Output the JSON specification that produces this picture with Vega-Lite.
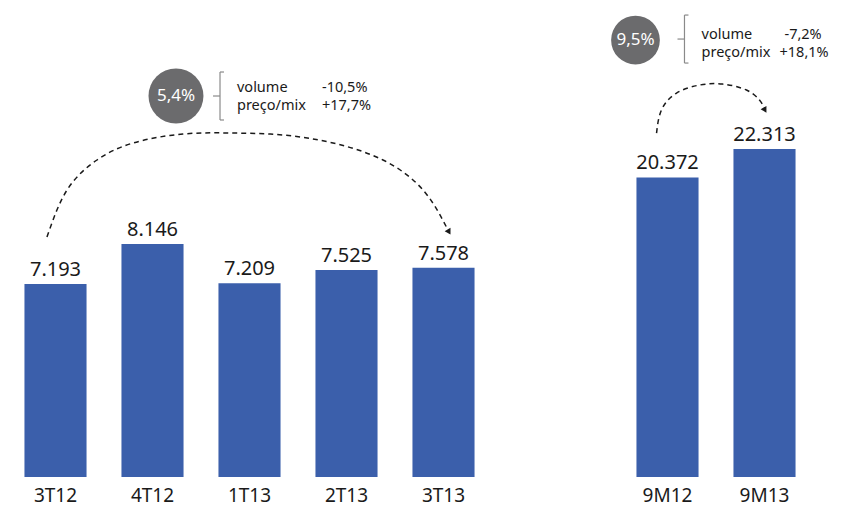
{
  "$schema": "https://vega.github.io/schema/vega-lite/v6.json",
  "padding": {"left": 7, "top": 5, "right": 0, "bottom": 15},
  "background": "white",
  "config": {"view": {"stroke": null}, "font": "Noto Sans", "text": {"font": "Noto Sans"}, "axis": {"labelFont": "Noto Sans"}},
  "spacing": 119,
  "datasets": {
    "barsL": [
      {"periodo": "3T12", "valor": 7193, "rotulo": "7.193"},
      {"periodo": "4T12", "valor": 8146, "rotulo": "8.146"},
      {"periodo": "1T13", "valor": 7209, "rotulo": "7.209"},
      {"periodo": "2T13", "valor": 7525, "rotulo": "7.525"},
      {"periodo": "3T13", "valor": 7578, "rotulo": "7.578"}
    ],
    "barsR": [
      {"periodo": "9M12", "valor": 20372, "rotulo": "20.372"},
      {"periodo": "9M13", "valor": 22313, "rotulo": "22.313"}
    ],
    "arcL": [
      {"t": 0.412, "y": 8312}, {"t": 0.619, "y": 9431}, {"t": 0.928, "y": 10145},
      {"t": 1.299, "y": 10549}, {"t": 1.814, "y": 10763}, {"t": 2.33, "y": 10787},
      {"t": 2.845, "y": 10740}, {"t": 3.361, "y": 10549}, {"t": 3.876, "y": 10145},
      {"t": 4.289, "y": 9431}, {"t": 4.546, "y": 8479}
    ],
    "arcR": [
      {"t": 0.387, "y": 23392}, {"t": 0.438, "y": 24956}, {"t": 0.593, "y": 26112},
      {"t": 0.83, "y": 26656}, {"t": 1.067, "y": 26724}, {"t": 1.314, "y": 26316},
      {"t": 1.448, "y": 25636}, {"t": 1.5, "y": 25092}
    ],
    "arrowL": [{"t": 4.557, "y": 8431}],
    "arrowR": [{"t": 1.505, "y": 24950}],
    "bubbleL": [{"t": 1.742, "y": 11668, "txt": "5,4%"}],
    "bubbleR": [{"t": 0.17, "y": 29716, "txt": "9,5%"}],
    "segL": [
      {"t1": 2.196, "t2": 2.196, "y1": 12239, "y2": 11097},
      {"t1": 2.196, "t2": 2.237, "y1": 12239, "y2": 12239},
      {"t1": 2.196, "t2": 2.237, "y1": 11097, "y2": 11097},
      {"t1": 2.124, "t2": 2.196, "y1": 11668, "y2": 11668}
    ],
    "segR": [
      {"t1": 0.675, "t2": 0.675, "y1": 31416, "y2": 28152},
      {"t1": 0.675, "t2": 0.716, "y1": 31416, "y2": 31416},
      {"t1": 0.675, "t2": 0.716, "y1": 28152, "y2": 28152},
      {"t1": 0.603, "t2": 0.675, "y1": 29784, "y2": 29784}
    ],
    "txtL": [
      {"t": 2.371, "y": 11870, "txt": "volume"},
      {"t": 2.371, "y": 11420, "txt": "preço/mix"},
      {"t": 3.247, "y": 11870, "txt": "-10,5%"},
      {"t": 3.247, "y": 11420, "txt": "+17,7%"}
    ],
    "txtR": [
      {"t": 0.851, "y": 30080, "txt": "volume"},
      {"t": 0.851, "y": 28810, "txt": "preço/mix"},
      {"t": 1.706, "y": 30080, "txt": "-7,2%"},
      {"t": 1.655, "y": 28810, "txt": "+18,1%"}
    ]
  },
  "hconcat": [
    {
      "width": 485,
      "height": 472,
      "resolve": {"scale": {"x": "independent"}},
      "layer": [
        {
          "data": {"name": "barsL"},
          "mark": {"type": "bar", "color": "#3b5fab"},
          "encoding": {
            "x": {"field": "periodo", "type": "nominal", "sort": null,
                  "scale": {"paddingInner": 0.36, "paddingOuter": 0.18},
                  "axis": {"title": null, "domain": false, "ticks": false, "labelAngle": 0, "labelFontSize": 19, "labelColor": "#1a1a1a", "labelPadding": 9}},
            "y": {"field": "valor", "type": "quantitative", "scale": {"domain": [2600, 13834], "nice": false, "zero": false}, "axis": null},
            "y2": {"datum": 2600}
          }
        },
        {
          "data": {"name": "barsL"},
          "mark": {"type": "text", "fontSize": 20, "color": "#1a1a1a", "baseline": "alphabetic", "dy": -8},
          "encoding": {
            "x": {"field": "periodo", "type": "nominal", "sort": null, "scale": {"paddingInner": 0.36, "paddingOuter": 0.18}, "axis": null},
            "y": {"field": "valor", "type": "quantitative", "scale": {"domain": [2600, 13834], "nice": false, "zero": false}, "axis": null},
            "text": {"field": "rotulo"}
          }
        },
        {
          "data": {"name": "arcL"},
          "mark": {"type": "line", "interpolate": "natural", "strokeDash": [5, 4], "color": "#1a1a1a", "strokeWidth": 1.5},
          "encoding": {
            "x": {"field": "t", "type": "quantitative", "scale": {"domain": [0, 5], "nice": false, "zero": false}, "axis": null},
            "y": {"field": "y", "type": "quantitative", "scale": {"domain": [2600, 13834], "nice": false, "zero": false}, "axis": null}
          }
        },
        {
          "data": {"name": "arrowL"},
          "mark": {"type": "point", "shape": "triangle-up", "filled": true, "color": "#1a1a1a", "size": 45, "angle": 150, "opacity": 1},
          "encoding": {
            "x": {"field": "t", "type": "quantitative", "scale": {"domain": [0, 5], "nice": false, "zero": false}, "axis": null},
            "y": {"field": "y", "type": "quantitative", "scale": {"domain": [2600, 13834], "nice": false, "zero": false}, "axis": null}
          }
        },
        {
          "data": {"name": "bubbleL"},
          "mark": {"type": "point", "shape": "circle", "filled": true, "color": "#6b6b6d", "size": 3019, "opacity": 1},
          "encoding": {
            "x": {"field": "t", "type": "quantitative", "scale": {"domain": [0, 5], "nice": false, "zero": false}, "axis": null},
            "y": {"field": "y", "type": "quantitative", "scale": {"domain": [2600, 13834], "nice": false, "zero": false}, "axis": null}
          }
        },
        {
          "data": {"name": "bubbleL"},
          "mark": {"type": "text", "fontSize": 17, "color": "white", "baseline": "middle", "align": "center"},
          "encoding": {
            "x": {"field": "t", "type": "quantitative", "scale": {"domain": [0, 5], "nice": false, "zero": false}, "axis": null},
            "y": {"field": "y", "type": "quantitative", "scale": {"domain": [2600, 13834], "nice": false, "zero": false}, "axis": null},
            "text": {"field": "txt"}
          }
        },
        {
          "data": {"name": "segL"},
          "mark": {"type": "rule", "color": "#8a8a8a", "strokeWidth": 1.2},
          "encoding": {
            "x": {"field": "t1", "type": "quantitative", "scale": {"domain": [0, 5], "nice": false, "zero": false}, "axis": null},
            "x2": {"field": "t2"},
            "y": {"field": "y1", "type": "quantitative", "scale": {"domain": [2600, 13834], "nice": false, "zero": false}, "axis": null},
            "y2": {"field": "y2"}
          }
        },
        {
          "data": {"name": "txtL"},
          "mark": {"type": "text", "fontSize": 14.5, "color": "#1a1a1a", "baseline": "middle", "align": "left"},
          "encoding": {
            "x": {"field": "t", "type": "quantitative", "scale": {"domain": [0, 5], "nice": false, "zero": false}, "axis": null},
            "y": {"field": "y", "type": "quantitative", "scale": {"domain": [2600, 13834], "nice": false, "zero": false}, "axis": null},
            "text": {"field": "txt"}
          }
        }
      ]
    },
    {
      "width": 194,
      "height": 472,
      "resolve": {"scale": {"x": "independent"}},
      "layer": [
        {
          "data": {"name": "barsR"},
          "mark": {"type": "bar", "color": "#3b5fab"},
          "encoding": {
            "x": {"field": "periodo", "type": "nominal", "sort": null,
                  "scale": {"paddingInner": 0.36, "paddingOuter": 0.18},
                  "axis": {"title": null, "domain": false, "ticks": false, "labelAngle": 0, "labelFontSize": 19, "labelColor": "#1a1a1a", "labelPadding": 9}},
            "y": {"field": "valor", "type": "quantitative", "scale": {"domain": [0, 32100], "nice": false}, "axis": null},
            "y2": {"datum": 0}
          }
        },
        {
          "data": {"name": "barsR"},
          "mark": {"type": "text", "fontSize": 20, "color": "#1a1a1a", "baseline": "alphabetic", "dy": -8},
          "encoding": {
            "x": {"field": "periodo", "type": "nominal", "sort": null, "scale": {"paddingInner": 0.36, "paddingOuter": 0.18}, "axis": null},
            "y": {"field": "valor", "type": "quantitative", "scale": {"domain": [0, 32100], "nice": false}, "axis": null},
            "text": {"field": "rotulo"}
          }
        },
        {
          "data": {"name": "arcR"},
          "mark": {"type": "line", "interpolate": "natural", "strokeDash": [5, 4], "color": "#1a1a1a", "strokeWidth": 1.5},
          "encoding": {
            "x": {"field": "t", "type": "quantitative", "scale": {"domain": [0, 2], "nice": false, "zero": false}, "axis": null},
            "y": {"field": "y", "type": "quantitative", "scale": {"domain": [0, 32100], "nice": false}, "axis": null}
          }
        },
        {
          "data": {"name": "arrowR"},
          "mark": {"type": "point", "shape": "triangle-up", "filled": true, "color": "#1a1a1a", "size": 45, "angle": 150, "opacity": 1},
          "encoding": {
            "x": {"field": "t", "type": "quantitative", "scale": {"domain": [0, 2], "nice": false, "zero": false}, "axis": null},
            "y": {"field": "y", "type": "quantitative", "scale": {"domain": [0, 32100], "nice": false}, "axis": null}
          }
        },
        {
          "data": {"name": "bubbleR"},
          "mark": {"type": "point", "shape": "circle", "filled": true, "color": "#6b6b6d", "size": 2376, "opacity": 1},
          "encoding": {
            "x": {"field": "t", "type": "quantitative", "scale": {"domain": [0, 2], "nice": false, "zero": false}, "axis": null},
            "y": {"field": "y", "type": "quantitative", "scale": {"domain": [0, 32100], "nice": false}, "axis": null}
          }
        },
        {
          "data": {"name": "bubbleR"},
          "mark": {"type": "text", "fontSize": 17, "color": "white", "baseline": "middle", "align": "center"},
          "encoding": {
            "x": {"field": "t", "type": "quantitative", "scale": {"domain": [0, 2], "nice": false, "zero": false}, "axis": null},
            "y": {"field": "y", "type": "quantitative", "scale": {"domain": [0, 32100], "nice": false}, "axis": null},
            "text": {"field": "txt"}
          }
        },
        {
          "data": {"name": "segR"},
          "mark": {"type": "rule", "color": "#8a8a8a", "strokeWidth": 1.2},
          "encoding": {
            "x": {"field": "t1", "type": "quantitative", "scale": {"domain": [0, 2], "nice": false, "zero": false}, "axis": null},
            "x2": {"field": "t2"},
            "y": {"field": "y1", "type": "quantitative", "scale": {"domain": [0, 32100], "nice": false}, "axis": null},
            "y2": {"field": "y2"}
          }
        },
        {
          "data": {"name": "txtR"},
          "mark": {"type": "text", "fontSize": 14.5, "color": "#1a1a1a", "baseline": "middle", "align": "left"},
          "encoding": {
            "x": {"field": "t", "type": "quantitative", "scale": {"domain": [0, 2], "nice": false, "zero": false}, "axis": null},
            "y": {"field": "y", "type": "quantitative", "scale": {"domain": [0, 32100], "nice": false}, "axis": null},
            "text": {"field": "txt"}
          }
        }
      ]
    }
  ]
}
